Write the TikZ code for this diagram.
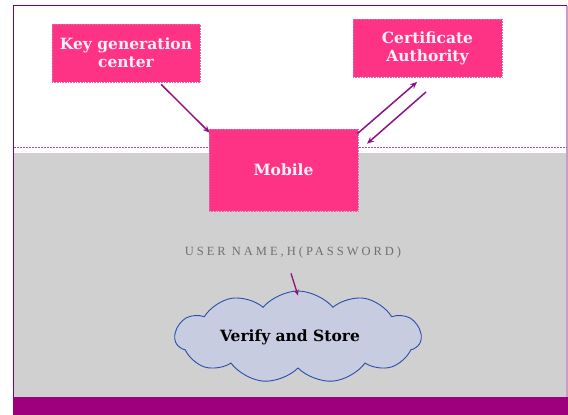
\documentclass[tikz,border=0pt]{standalone}
\usepackage{fontspec}
\setmainfont{DejaVu Serif}
\newfontfamily\capsfont[LetterSpace=24]{Liberation Serif}
\usetikzlibrary{shapes.symbols,arrows.meta,calc}
\definecolor{pinkc}{RGB}{255,51,133}
\definecolor{boxborder}{RGB}{215,110,165}
\definecolor{labelc}{RGB}{255,240,246}
\definecolor{arrowc}{RGB}{140,20,130}
\definecolor{bandc}{RGB}{158,0,125}
\definecolor{framec}{RGB}{128,0,110}
\definecolor{framelight}{RGB}{205,155,195}
\definecolor{dotc}{RGB}{175,80,155}
\definecolor{bggrey}{RGB}{208,208,208}
\definecolor{cloudfill}{RGB}{200,204,224}
\definecolor{clouddraw}{RGB}{40,80,170}
\definecolor{usergrey}{RGB}{112,112,112}
\tikzset{
  pinkbox/.style={fill=pinkc, draw=boxborder, densely dotted, line width=0.6pt,
    text=labelc, align=center, inner sep=0pt,
    font=\fontsize{15.5}{18}\selectfont\bfseries},
  arr/.style={draw=arrowc, line width=1.5pt, -{Stealth[length=7pt,width=6pt]}},
  cloudbox/.style={cloud, cloud puffs=11, cloud puff arc=100, cloud ignores aspect,
    fill=cloudfill, draw=clouddraw, line width=0.9pt, inner sep=0pt},
}
\begin{document}
\begin{tikzpicture}[x=1pt,y=-1pt]
\useasboundingbox (0,0) rectangle (568,415);
% background
\fill[bggrey] (13.5,153) rectangle (567,397);
\fill[bandc] (13,397) rectangle (568,415);
\draw[framec, line width=1.6pt] (13.5,397) -- (13.5,5.5) -- (567,5.5);
\draw[framelight, line width=1.2pt] (567,5.5) -- (567,397);
\draw[dotc, line width=1.3pt, dash pattern=on 2pt off 1pt] (14,147.5) -- (567,147.5);
% boxes
\node[pinkbox, minimum width=148pt, minimum height=58pt] (kgc) at (126,53) {Key generation\\center};
\node[pinkbox, minimum width=149pt, minimum height=58pt] (ca) at (427.5,48) {Certificate\\Authority};
\node[pinkbox, minimum width=149pt, minimum height=82pt] (mob) at (283.5,170) {Mobile};
% arrows
\draw[arr] ($(kgc.south west)!0.736!(kgc.south east)+(0,2)$) -- ($(mob.north west)+(1,4)$);
\draw[arr] ($(mob.north east)+(-1,5)$) -- ($(ca.south west)!0.43!(ca.south east)+(0,4.7)$);
\draw[arr] ($(ca.south west)!0.49!(ca.south east)+(0,14.7)$) -- ($(mob.north east)+(8.7,15)$);
% user text
\node[text=usergrey, font=\capsfont\fontsize{12.5}{14}\selectfont, inner sep=0pt] (user) at (293,252.5) {USER NAME,H(PASSWORD)};
% cloud
\node[cloudbox, minimum width=246pt, minimum height=92pt] (cl) at (298,337) {};
\node[font=\fontsize{15.5}{18}\selectfont\bfseries, text=black, inner sep=0pt] (vs) at (290,337) {Verify and Store};
\draw[arr, line width=1.3pt, -{Stealth[length=6pt,width=5pt]}] ($(user.south)+(-2,15)$) -- ($(cl.north)+(0,5)$);
\end{tikzpicture}
\end{document}
